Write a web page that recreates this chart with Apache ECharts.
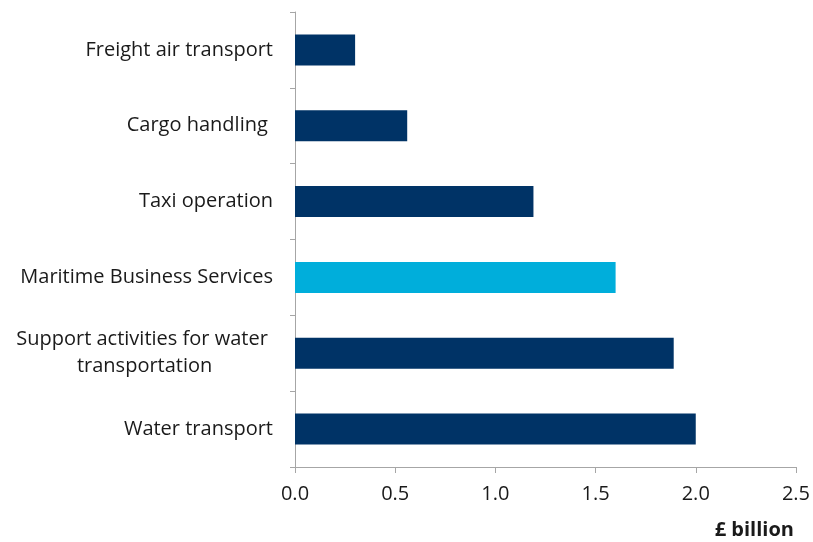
<!DOCTYPE html>
<html><head><meta charset="utf-8">
<script src="https://cdn.jsdelivr.net/npm/echarts@6/dist/echarts.min.js"></script>
<style>html,body{margin:0;padding:0;background:#fff}#c{width:813px;height:542px}</style>
</head><body><div id="c"></div>
<script>
const categories = ["Water transport","Support activities for water \ntransportation","Maritime Business Services","Taxi operation","Cargo handling ","Freight air transport"];
const values = [2.00, 1.89, 1.60, 1.19, 0.56, 0.30];
const highlight = [false, false, true, false, false, false];
const xTicks = {min: 0, max: 2.5, interval: 0.5};
const axisName = "£ billion";

const FONT = "Open Sans";
const FS = 20;
const chart = echarts.init(document.getElementById('c'));
chart.setOption({
  animation: false,
  grid: {left: 295, right: 14, top: 12, bottom: 75, containLabel: false},
  xAxis: {
    type: 'value', min: xTicks.min, max: xTicks.max, interval: xTicks.interval,
    axisLine: {show: true, lineStyle: {color: '#a6a6a6', width: 1}},
    axisTick: {show: true, length: 6, lineStyle: {color: '#a6a6a6'}},
    splitLine: {show: false},
    axisLabel: {color: '#1a1a1a', fontFamily: FONT, fontSize: FS, margin: 17,
      formatter: v => v.toFixed(1)},
    name: axisName, nameLocation: 'end',
    nameTextStyle: {fontFamily: FONT, fontSize: FS, fontWeight: 'bold', color: '#1a1a1a',
      align: 'right', verticalAlign: 'top', padding: [53, 0, 0, 0]},
    nameGap: -2
  },
  yAxis: {
    type: 'category', data: categories,
    axisLine: {show: true, lineStyle: {color: '#a6a6a6', width: 1}},
    axisTick: {show: true, length: 5, lineStyle: {color: '#a6a6a6'}},
    axisLabel: {color: '#1a1a1a', fontFamily: FONT, fontSize: FS, margin: 22, lineHeight: 27,
      formatter: v => v.indexOf('\n') >= 0 ? '{c|' + v + '}' : v,
      rich: {c: {align: 'center', fontFamily: FONT, fontSize: FS, lineHeight: 27, color: '#1a1a1a'}}
    }
  },
  series: [{
    type: 'bar', barWidth: 31,
    data: values.map((v, i) => ({value: v, itemStyle: {color: highlight[i] ? '#00aedb' : '#003366'}}))
  }]
});
</script></body></html>
